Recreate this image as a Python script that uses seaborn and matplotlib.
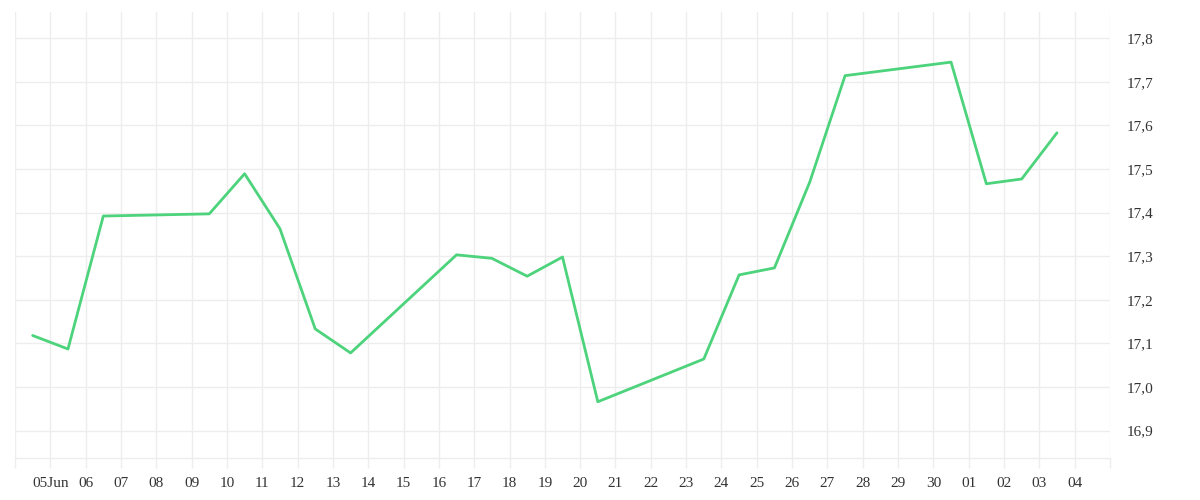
import pandas as pd
import seaborn as sns
import matplotlib.pyplot as plt
import matplotlib.dates as mdates
from matplotlib.ticker import FixedLocator, FuncFormatter

# trading days (value sits at midday of each day)
days = [
    "2025-06-04", "2025-06-05", "2025-06-06", "2025-06-09", "2025-06-10",
    "2025-06-11", "2025-06-12", "2025-06-13", "2025-06-16", "2025-06-17",
    "2025-06-18", "2025-06-19", "2025-06-20", "2025-06-23", "2025-06-24",
    "2025-06-25", "2025-06-26", "2025-06-27", "2025-06-30", "2025-07-01",
    "2025-07-02", "2025-07-03",
]
values = [
    17.118, 17.087, 17.392, 17.397, 17.489,
    17.363, 17.133, 17.078, 17.303, 17.295,
    17.254, 17.298, 16.966, 17.064, 17.257,
    17.273, 17.470, 17.714, 17.745, 17.466,
    17.477, 17.583,
]
y_ticks = [16.9, 17.0, 17.1, 17.2, 17.3, 17.4, 17.5, 17.6, 17.7, 17.8]

df = pd.DataFrame({"date": pd.to_datetime(days) + pd.Timedelta(hours=12), "value": values})

grid_c = "#ededed"
text_c = "#333333"

sns.set_theme(style="white")
plt.rcParams["font.family"] = ["Liberation Serif", "DejaVu Serif"]

fig = plt.figure(figsize=(12, 5), dpi=100)
ax = fig.add_axes([0.0125, 0.084, 0.9125, 0.892])

sns.lineplot(data=df, x="date", y="value", ax=ax, color="#4cd37b", linewidth=2.0)

start = pd.Timestamp("2025-06-04")
end = pd.Timestamp("2025-07-05")
ax.set_xlim(start, end)
ax.set_ylim(16.837, 17.86)

tick_days = pd.date_range(start, end, freq="D")
ax.xaxis.set_major_locator(FixedLocator(mdates.date2num(tick_days)))


def fmt_day(x, pos):
    d = mdates.num2date(x).replace(tzinfo=None)
    if d <= start or d >= end:
        return ""
    if d.day == 5 and d.month == 6:
        return "05Jun"
    return d.strftime("%d")


ax.xaxis.set_major_formatter(FuncFormatter(fmt_day))

ax.yaxis.tick_right()
ax.set_yticks(y_ticks)
ax.yaxis.set_major_formatter(FuncFormatter(lambda v, p: f"{v:.1f}".replace(".", ",")))

ax.grid(True, color=grid_c, linewidth=1.0)
ax.tick_params(axis="x", length=7.2, width=1.0, color=grid_c, labelcolor=text_c,
               labelsize=11, pad=6.5, direction="out", bottom=True)
ax.tick_params(axis="y", length=0, labelsize=11, pad=12, labelcolor=text_c)

for side in ["left", "right", "top"]:
    ax.spines[side].set_visible(False)
ax.spines["bottom"].set_color(grid_c)
ax.spines["bottom"].set_linewidth(1.0)

ax.set_xlabel("")
ax.set_ylabel("")

fig.savefig("out.png", dpi=100)
